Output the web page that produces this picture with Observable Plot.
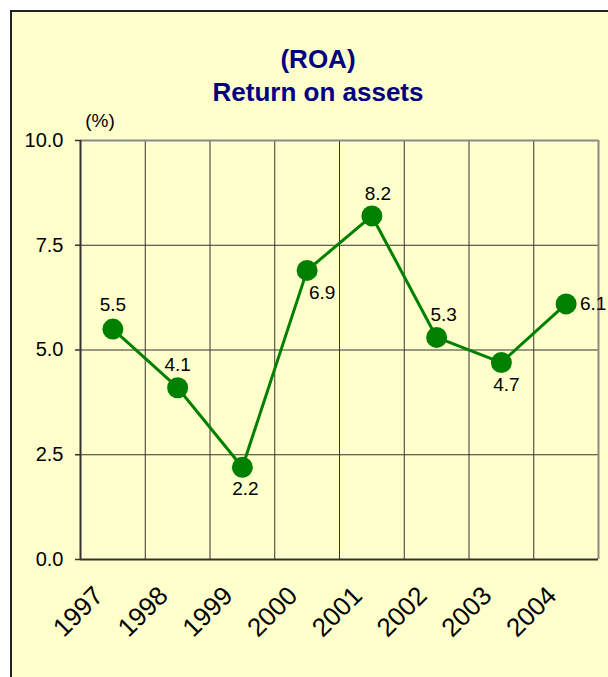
<!DOCTYPE html>
<html><head><meta charset="utf-8">
<script src="https://cdn.jsdelivr.net/npm/d3@7"></script>
<script src="https://cdn.jsdelivr.net/npm/@observablehq/plot@0.6"></script>
<style>
body{margin:0;background:#fff;font-family:"Liberation Sans",Arial,sans-serif;}
#wrap{position:relative;width:608px;height:677px;overflow:hidden;}
#box{position:absolute;left:10px;top:10px;width:640px;height:700px;border:2px solid #222;background:#FFFFCC;}
.t{position:absolute;left:0;width:636px;text-align:center;font-weight:bold;font-size:26px;color:#000080;line-height:1;white-space:nowrap;}
#unit{position:absolute;left:75px;width:50px;text-align:center;top:111px;font-size:19px;line-height:1;color:#000;font-family:"Liberation Sans Narrow","Liberation Sans",sans-serif;}
#chart{position:absolute;left:0;top:0;}
</style></head><body>
<div id="wrap">
<div id="box"></div>
<div class="t" style="top:46px">(ROA)</div>
<div class="t" style="top:79px">Return on assets</div>
<div id="unit">(%)</div>
<div id="chart"></div>
</div>
<script>
const years = ["1997","1998","1999","2000","2001","2002","2003","2004"];
const roa = [5.5, 4.1, 2.2, 6.9, 8.2, 5.3, 4.7, 6.1];
const yTicks = [0, 2.5, 5, 7.5, 10];

const data = years.map((y, i) => ({i, year: y, v: roa[i]}));
// label offsets (px) relative to each point, as placed in the original
const labelOffset = {
  "1997": [0, -24], "1998": [0, -23], "1999": [3, 22], "2000": [15, 23],
  "2001": [6, -22], "2002": [7, -23], "2003": [5, 22], "2004": [27, 0]
};

const labelMarks = years.map(yr => {
  const [dx, dy] = labelOffset[yr];
  return Plot.text(data.filter(d => d.year === yr), {
    x: "i", y: "v", text: d => d.v.toFixed(1), dx, dy, fontSize: 19, fill: "#000", lineAnchor: "middle"
  });
});

const n = years.length;
const chart = Plot.plot({
  width: 608, height: 677,
  marginLeft: 80, marginRight: 10, marginTop: 140, marginBottom: 118,
  style: {background: "transparent", fontFamily: "Liberation Sans, Arial, sans-serif", overflow: "visible", color: "#000"},
  x: {domain: [-0.5, n - 0.5], axis: null},
  y: {domain: [0, 10], axis: null},
  marks: [
    Plot.gridX(d3.range(0.5, n - 0.5, 1), {stroke: "#333", strokeOpacity: 1}),
    Plot.gridY([2.5, 5, 7.5], {stroke: "#333", strokeOpacity: 1}),
    Plot.ruleY([10], {stroke: "#8a8a8a", strokeWidth: 2}),
    Plot.ruleX([n - 0.5], {stroke: "#8a8a8a", strokeWidth: 2}),
    Plot.ruleX([-0.5], {stroke: "#333", strokeWidth: 2}),
    Plot.ruleY([0], {stroke: "#333", strokeWidth: 2}),
    Plot.ruleY(yTicks, {x1: -0.5, x2: -0.5, insetLeft: -5, stroke: "#333", strokeWidth: 1.5}),
    Plot.text(yTicks, {y: d => d, frameAnchor: "left", text: d => d.toFixed(1), textAnchor: "end", lineAnchor: "middle", dx: -17, fontSize: 20, fill: "#000"}),
    Plot.text(data, {x: "i", frameAnchor: "bottom", text: "year", rotate: -45, textAnchor: "end", lineAnchor: "middle", dx: -14, dy: 32, fontSize: 26, fill: "#000"}),
    Plot.line(data, {x: "i", y: "v", stroke: "#008000", strokeWidth: 3}),
    Plot.dot(data, {x: "i", y: "v", r: 10.5, fill: "#008000"}),
    ...labelMarks
  ]
});
document.getElementById("chart").appendChild(chart);
</script>
</body></html>
